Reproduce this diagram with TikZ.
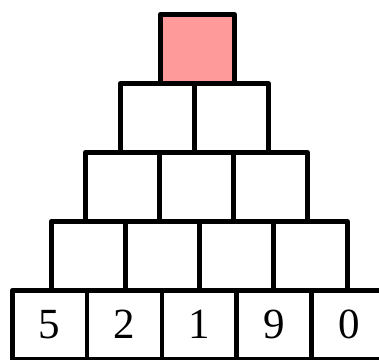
\documentclass[tikz,border=0pt]{standalone}
\usepackage{fontspec}
\setmainfont{Liberation Serif}
\definecolor{topPink}{HTML}{FF9A9A}
\begin{document}
\begin{tikzpicture}[x=1pt,y=-1pt]
\tikzset{cell/.style={draw,line width=4.5pt,line join=round,minimum width=74pt,minimum height=69pt,inner sep=0pt,anchor=north west,font=\fontsize{43}{43}\selectfont}}
\useasboundingbox (0,0) rectangle (379,359);
\clip (0,0) rectangle (379,359);
% bottom row with the digits
\foreach \d [count=\i from 0] in {5,2,1,9,0}
  \node[cell,minimum width=74.8pt] (c0\i) at (10+74.8*\i,288) {\d};
% empty rows above
\foreach \r/\x/\y/\n in {1/49/219/4,2/83/150/3,3/118/81/2}
  \foreach \i in {1,...,\n}
    \node[cell] (c\r\i) at (\x+74*\i-74,\y) {};
% top cell
\node[cell,fill=topPink] (c41) at (158,12) {};
\end{tikzpicture}
\end{document}
